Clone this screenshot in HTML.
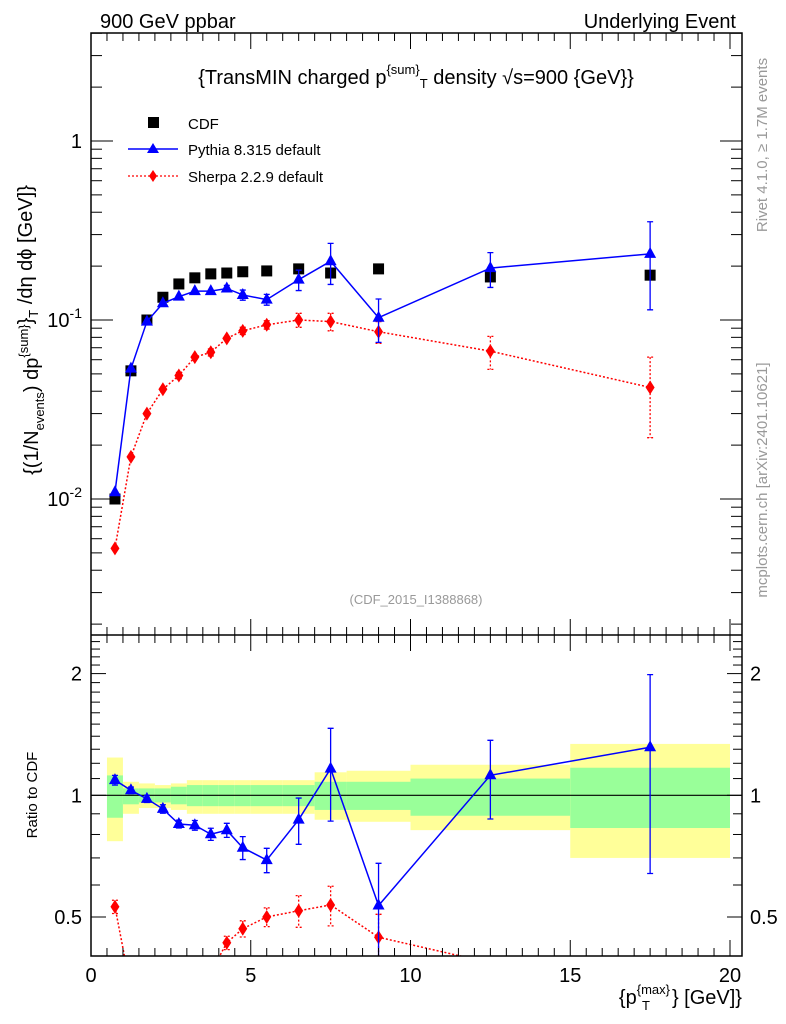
<!DOCTYPE html>
<html><head><meta charset="utf-8"><style>
html,body{margin:0;padding:0;background:#fff;width:786px;height:1024px;overflow:hidden}
svg{display:block;font-family:"Liberation Sans",sans-serif}
</style></head><body>
<svg id="c" width="786" height="1024" viewBox="0 0 786 1024">
<defs>
<clipPath id="cm"><rect x="91" y="33" width="651" height="602"/></clipPath>
<clipPath id="cr"><rect x="91" y="635" width="651" height="321"/></clipPath>
</defs>
<g id="bands" clip-path="url(#cr)"></g>
<g id="marks"></g>
<g id="axes"></g>
<text x="100" y="28" font-size="20">900 GeV ppbar</text>
<text x="736" y="28" font-size="20" text-anchor="end">Underlying Event</text>
<text x="416" y="84" font-size="20" text-anchor="middle">{TransMIN charged p<tspan font-size="13" dy="-10">{sum}</tspan><tspan font-size="13" dy="14">T</tspan><tspan dy="-4"> density √s=900 {GeV}}</tspan></text>
<text x="416" y="604" font-size="13" fill="#999" text-anchor="middle">(CDF_2015_I1388868)</text>
<text transform="translate(767,145) rotate(-90)" font-size="15" fill="#999" text-anchor="middle">Rivet 4.1.0, ≥ 1.7M events</text>
<text transform="translate(767,480) rotate(-90)" font-size="15" fill="#999" text-anchor="middle">mcplots.cern.ch [arXiv:2401.10621]</text>
<text transform="translate(38,330) rotate(-90)" font-size="20" text-anchor="middle">{(1/N<tspan font-size="13" dy="6">events</tspan><tspan dy="-6">) dp</tspan><tspan font-size="13" dy="-10">{sum}</tspan><tspan dy="4">}</tspan><tspan font-size="13" dy="6">T</tspan><tspan dy="-6"> /dη  dϕ [GeV]}</tspan></text>
<text transform="translate(37,795) rotate(-90)" font-size="15" text-anchor="middle">Ratio to CDF</text>
<text x="742" y="1004" font-size="20" text-anchor="end">{p<tspan font-size="13" dy="-10">{max}</tspan><tspan font-size="13" dy="16" dx="-28">T</tspan><tspan dy="-6" dx="22">} [GeV]}</tspan></text>
<g>
<rect x="148" y="117" width="11" height="11" fill="#000"/>
<text x="188" y="129" font-size="15">CDF</text>
<line x1="128" y1="149" x2="178" y2="149" stroke="#00f" stroke-width="1.5"/>
<path d="M153,143 L159,153 L147,153Z" fill="#00f"/>
<text x="188" y="155" font-size="15">Pythia 8.315 default</text>
<line x1="128" y1="176" x2="178" y2="176" stroke="#f00" stroke-width="1.3" stroke-dasharray="2,2"/>
<path d="M153,170 L157,176 L153,182 L149,176Z" fill="#f00"/>
<text x="188" y="182" font-size="15">Sherpa 2.2.9 default</text>
</g>
</svg>
<script>
const xCenters=[0.75,1.25,1.75,2.25,2.75,3.25,3.75,4.25,4.75,5.5,6.5,7.5,9,12.5,17.5];
const binEdges=[0.5,1,1.5,2,2.5,3,3.5,4,4.5,5,6,7,8,10,15,20];
const cdfValues=[0.0100,0.052,0.100,0.134,0.159,0.172,0.181,0.183,0.186,0.188,0.193,0.183,0.193,0.174,0.178];
const pythiaValues=[0.0109,0.0535,0.098,0.124,0.135,0.145,0.145,0.150,0.138,0.130,0.168,0.213,0.103,0.195,0.234];
const pythiaErrors=[0.0003,0.001,0.002,0.003,0.003,0.004,0.005,0.006,0.009,0.009,0.022,0.055,0.028,0.043,0.12];
const sherpaValues=[0.0053,0.0172,0.030,0.041,0.049,0.062,0.066,0.079,0.087,0.094,0.100,0.098,0.086,0.067,0.042];
const sherpaErrors=[0.0002,0.0005,0.001,0.0015,0.002,0.002,0.003,0.003,0.004,0.005,0.009,0.011,0.012,0.014,0.020];
const yellowHi=[1.24,1.08,1.07,1.06,1.07,1.09,1.09,1.09,1.09,1.09,1.09,1.14,1.15,1.19,1.34];
const yellowLo=[0.77,0.90,0.93,0.93,0.92,0.90,0.90,0.90,0.90,0.90,0.90,0.87,0.86,0.82,0.70];
const greenHi=[1.12,1.04,1.04,1.04,1.05,1.06,1.06,1.06,1.06,1.06,1.06,1.08,1.08,1.10,1.17];
const greenLo=[0.88,0.95,0.96,0.96,0.95,0.94,0.94,0.94,0.94,0.94,0.94,0.92,0.92,0.89,0.83];
const mainTicks=["10^-2","10^-1","1"];
const ratioTicks=["0.5","1","2"];
const xTicks=["0","5","10","15","20"];

const NS="http://www.w3.org/2000/svg";
const X=v=>91+v*31.95;
const YM=v=>141-179*Math.log10(v);
const YR=v=>795.3-121.7*Math.log2(v);
function mk(parent,tag,attrs){const e=document.createElementNS(NS,tag);for(const k in attrs)e.setAttribute(k,attrs[k]);parent.appendChild(e);return e;}
const bands=document.getElementById('bands'),marks=document.getElementById('marks'),axes=document.getElementById('axes');

for(let i=0;i<xCenters.length;i++){
 const x0=X(binEdges[i]),x1=X(binEdges[i+1]);
 let r=mk(bands,'rect',{x:x0,y:YR(yellowHi[i]),width:x1-x0,height:YR(yellowLo[i])-YR(yellowHi[i]),fill:'#ffff99'});
 
 
 r=mk(bands,'rect',{x:x0,y:YR(greenHi[i]),width:x1-x0,height:YR(greenLo[i])-YR(greenHi[i]),fill:'#99ff99'});
 
 
}
let ref=mk(bands,'line',{x1:91,x2:742,y1:YR(1),y2:YR(1),stroke:'#000','stroke-width':1.2});



function series(vals,errs,Y,clip,color,dash,shape,name,ymin,ymax){
 const g=mk(marks,'g',{'clip-path':clip});
 
 
 const pts=xCenters.map((x,i)=>X(x)+','+Y(vals[i])).join(' ');
 const pl=mk(g,'polyline',{points:pts,fill:'none',stroke:color,'stroke-width':1.5,'stroke-dasharray':dash||'none'});
 
 
 xCenters.forEach((x,i)=>{
  const cx=X(x),cy=Y(vals[i]);
  if(cy<ymin||cy>ymax)return;
  if(errs){const y1=Y(vals[i]+errs[i]),y2=Y(Math.max(vals[i]-errs[i],1e-6));
   if(Math.abs(y2-y1)>6){const e=mk(g,'path',{d:`M${cx},${y1}V${y2}M${cx-3},${y1}H${cx+3}M${cx-3},${y2}H${cx+3}`,stroke:color,'stroke-width':1.3,'stroke-dasharray':dash||'none',fill:'none'});
   
   }}
  let m;
  if(shape==='tri')m=mk(g,'path',{d:`M${cx},${cy-7}L${cx+6},${cy+4}L${cx-6},${cy+4}Z`,fill:color});
  else m=mk(g,'path',{d:`M${cx},${cy-7}L${cx+4.5},${cy}L${cx},${cy+7}L${cx-4.5},${cy}Z`,fill:color});
  
  
 });
}
const gc=mk(marks,'g',{'clip-path':'url(#cm)'});


xCenters.forEach((x,i)=>{const r=mk(gc,'rect',{x:X(x)-5.5,y:YM(cdfValues[i])-5.5,width:11,height:11,fill:'#000'});
 
 });
series(sherpaValues,sherpaErrors,YM,'url(#cm)','#f00','2,2','dia','sherpa-main',33,635);
series(pythiaValues,pythiaErrors,YM,'url(#cm)','#00f','','tri','pythia-main',33,635);
series(sherpaValues.map((v,i)=>v/cdfValues[i]),sherpaErrors.map((v,i)=>v/cdfValues[i]),YR,'url(#cr)','#f00','2,2','dia','sherpa-ratio',635,956);
series(pythiaValues.map((v,i)=>v/cdfValues[i]),pythiaErrors.map((v,i)=>v/cdfValues[i]),YR,'url(#cr)','#00f','','tri','pythia-ratio',635,956);

function L(x1,y1,x2,y2,w){mk(axes,'line',{x1:x1,y1:y1,x2:x2,y2:y2,stroke:'#000','stroke-width':w||1});}
const fr=mk(axes,'rect',{x:91,y:33,width:651,height:923,fill:'none',stroke:'#000','stroke-width':1.5});


L(91,635,742,635,1.5);
for(let j=0;j<=40;j++){const v=j*0.5;const maj=(j%10===0),len=maj?16:8;const x=X(v);
 L(x,956,x,956-len);L(x,635,x,635-len);L(x,635,x,635+len);L(x,33,x,33+len);}
xTicks.forEach(t=>{const tx=mk(axes,'text',{x:X(+t),y:982,'font-size':20,'text-anchor':'middle'});tx.textContent=t;
 
 });
for(let d=-3;d<=0;d++)for(let k=1;k<=9;k++){const v=k*Math.pow(10,d);const y=YM(v);if(y<33||y>635)continue;
 const len=k===1?22:11;L(91,y,91+len,y);L(742,y,742-len,y);}
mainTicks.forEach((t,i)=>{const y=YM(Math.pow(10,i-2));const tx=mk(axes,'text',{x:82,y:y+7,'font-size':20,'text-anchor':'end'});
 if(t==='1')tx.textContent='1';else{tx.textContent='10';const s=mk(tx,'tspan',{'font-size':14,dy:-9});s.textContent=t.split('^')[1];}
 
 });
for(let j=4;j<=25;j++){const v=j/10;const y=YR(v);if(y<635||y>956)continue;const maj=(j===5||j===10||j===20);const len=maj?15:9;
 L(91,y,91+len,y);L(742,y,742-len,y);}
ratioTicks.forEach(t=>{const y=YR(+t);[[82,'end'],[750,'start']].forEach(p=>{const tx=mk(axes,'text',{x:p[0],y:y+7,'font-size':20,'text-anchor':p[1]});tx.textContent=t;
 
 });});
</script>
</body></html>
